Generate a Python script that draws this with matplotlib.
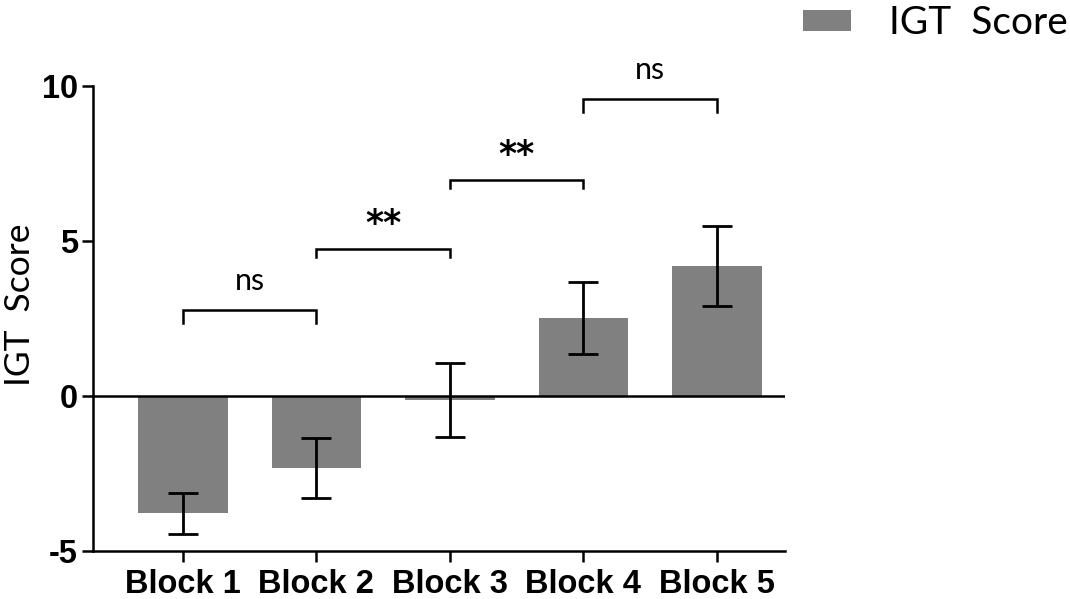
import matplotlib
matplotlib.use("Agg")
import matplotlib.pyplot as plt

plt.rcParams["axes.unicode_minus"] = False

blocks = ["Block 1", "Block 2", "Block 3", "Block 4", "Block 5"]
igt_mean = [-3.78, -2.32, -0.12, 2.53, 4.19]
igt_err = [0.66, 0.97, 1.2, 1.16, 1.29]

# significance brackets: (left block, right block), height, tick drop, label
pairs = [(0, 1), (1, 2), (2, 3), (3, 4)]
bracket_y = [2.77, 4.74, 6.97, 9.58]
bracket_drop = [0.4, 0.27, 0.25, 0.42]
bracket_lbl = ["ns", "**", "**", "ns"]

label_font = ["Lato", "DejaVu Sans"]
tick_font = "Liberation Sans"

fig = plt.figure(figsize=(10.7, 5.99), dpi=100)
ax = fig.add_axes([0.0869, 0.0801, 0.6467, 0.7763])

x = list(range(len(blocks)))
ax.bar(x, igt_mean, width=0.67, color="#808080", label="IGT  Score", zorder=2)
ax.errorbar(x, igt_mean, yerr=igt_err, fmt="none", ecolor="black",
            elinewidth=2, capsize=11, capthick=2, zorder=3)
ax.axhline(0, color="black", lw=1.8, zorder=4)

for (a, b), yb, d, lbl in zip(pairs, bracket_y, bracket_drop, bracket_lbl):
    ax.plot([a, a, b, b], [yb - d, yb, yb, yb - d], color="black", lw=1.8,
            solid_joinstyle="miter")
    if lbl == "ns":
        ax.text((a + b) / 2, yb + 0.5, lbl, ha="center", va="bottom",
                fontsize=22, family=label_font)
    else:
        ax.text((a + b) / 2, yb + 0.25, lbl, ha="center", va="bottom",
                fontsize=25, fontweight="bold", family="DejaVu Sans")

ax.set_xlim(-0.674, 4.51)
ax.set_ylim(-5, 10)
ax.set_yticks([-5, 0, 5, 10])
ax.set_xticks(x)
ax.set_xticklabels(blocks)
for lab in ax.get_xticklabels() + ax.get_yticklabels():
    lab.set_fontfamily(tick_font)
    lab.set_fontweight("bold")
    lab.set_fontsize(23.5)
ax.tick_params(axis="x", direction="out", length=8, width=1.8, pad=5)
ax.tick_params(axis="y", direction="out", length=8, width=1.8, pad=3)

ax.spines["top"].set_visible(False)
ax.spines["right"].set_visible(False)
ax.spines["left"].set_linewidth(1.8)
ax.spines["bottom"].set_linewidth(1.8)

ax.set_ylabel("IGT  Score", fontsize=25.5, family=label_font, va="center")
ax.yaxis.set_label_coords(-0.105, 0.53)

fig.legend(loc="upper right", bbox_to_anchor=(1.031, 1.05), frameon=False,
           prop={"family": label_font, "size": 28}, handlelength=1.23,
           handleheight=0.46, handletextpad=1.0)

fig.savefig("out.png", dpi=100)
